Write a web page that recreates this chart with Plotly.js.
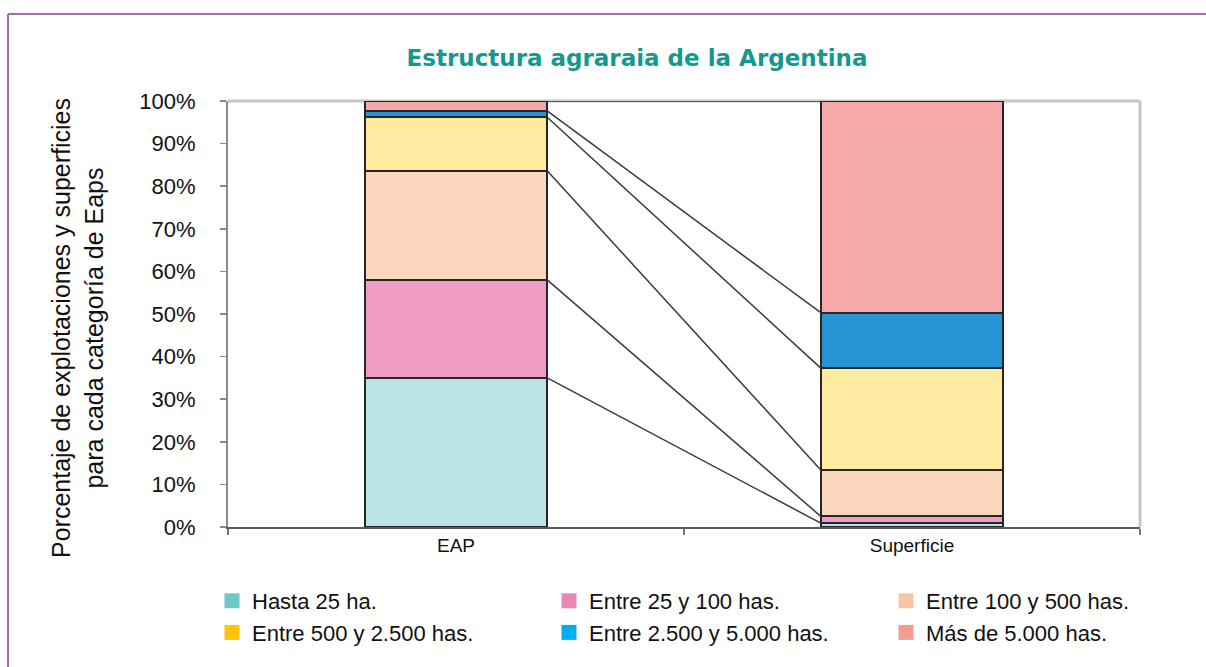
<!DOCTYPE html>
<html><head><meta charset="utf-8">
<script src="https://cdn.plot.ly/plotly-3.0.1.min.js"></script>
<style>body{margin:0;background:#fff}#chart{width:1206px;height:667px}</style>
</head><body><div id="chart"></div>
<script>
// ---- data ----
const categories = ['EAP', 'Superficie'];
const seriesNames = ['Hasta 25 ha.', 'Entre 25 y 100 has.', 'Entre 100 y 500 has.',
                     'Entre 500 y 2.500 has.', 'Entre 2.500 y 5.000 has.', 'Más de 5.000 has.'];
const eapValues = [35.0, 23.0, 25.6, 12.6, 1.5, 2.3];
const superficieValues = [0.9, 1.6, 10.9, 23.9, 13.0, 49.7];
const yTickVals = [0, 10, 20, 30, 40, 50, 60, 70, 80, 90, 100];
const yTickText = ['0%', '10%', '20%', '30%', '40%', '50%', '60%', '70%', '80%', '90%', '100%'];
const chartTitle = 'Estructura agraraia de la Argentina';
const yTitle = 'Porcentaje de explotaciones y superficies<br>para cada categoría de Eaps';

// ---- styles ----
const barColors = ['#b9e3e5', '#f09bc3', '#fbd7be', '#feeba0', '#2795d3', '#f6a9a9'];
const legendColors = ['#6ccbc6', '#e589b6', '#f9c4a2', '#fec20f', '#00aeef', '#f59b95'];
const FONT = '"Liberation Sans", Arial, Helvetica, sans-serif';
const W = 1206, H = 667;
const M = {l: 228, r: 66, t: 101, b: 140, autoexpand: false};
const plotW = W - M.l - M.r, plotH = H - M.t - M.b;
const barWidth = 0.4;
const pxX = p => (p - M.l) / plotW;
const pxY = p => (H - M.b - p) / plotH;

const traces = [];
seriesNames.forEach((name, i) => {
  traces.push({
    type: 'bar', x: categories, y: [eapValues[i], superficieValues[i]],
    width: barWidth, name: name, showlegend: false,
    marker: {color: barColors[i], line: {color: '#262626', width: 2}},
    hoverinfo: 'name+y'
  });
});

// series connector lines (cumulative tops)
const lx = [], ly = [];
let cumE = 0, cumS = 0;
for (let i = 0; i < seriesNames.length; i++) {
  cumE += eapValues[i]; cumS += superficieValues[i];
  lx.push(0 + barWidth / 2, 1 - barWidth / 2, null);
  ly.push(cumE, cumS, null);
}
traces.push({
  type: 'scatter', mode: 'lines', x: lx, y: ly, xaxis: 'x2', yaxis: 'y',
  line: {color: '#3a3a3a', width: 1.5}, showlegend: false, hoverinfo: 'skip'
});

// legend entries
seriesNames.forEach((name, i) => {
  traces.push({
    type: 'scatter', mode: 'markers', x: [null], y: [null], xaxis: 'x2',
    name: name, marker: {symbol: 'square', size: 15, color: legendColors[i]},
    hoverinfo: 'skip'
  });
});

const layout = {
  width: W, height: H, autosize: false,
  margin: M,
  paper_bgcolor: '#ffffff', plot_bgcolor: '#ffffff',
  font: {family: FONT, color: '#111111'},
  barmode: 'stack',
  title: {
    text: chartTitle, x: 637 / W, xref: 'container', xanchor: 'center',
    y: 1 - 58 / H, yref: 'container', yanchor: 'middle',
    font: {family: '"DejaVu Sans", ' + FONT, size: 23, color: '#13998d', weight: 'bold'}
  },
  xaxis: {
    type: 'category', range: [-0.5, 1.5], fixedrange: true,
    showline: true, linecolor: '#5a5a5a', linewidth: 2,
    ticks: 'outside', tickson: 'boundaries', ticklen: 6, tickwidth: 1.5, tickcolor: '#777',
    tickfont: {size: 19, color: '#111'}, showgrid: false, zeroline: false,
    automargin: false
  },
  xaxis2: {
    overlaying: 'x', range: [-0.5, 1.5], visible: false, fixedrange: true
  },
  yaxis: {
    range: [0, 100], fixedrange: true,
    tickvals: yTickVals, ticktext: yTickText,
    showline: true, linecolor: '#8a8a8a', linewidth: 2,
    ticks: 'outside', ticklen: 6, tickwidth: 1.5, tickcolor: '#8a8a8a',
    ticklabelstandoff: 20,
    tickfont: {size: 22, color: '#111'}, showgrid: false, zeroline: false,
    automargin: false
  },
  annotations: [{
    text: yTitle, textangle: -90, xref: 'paper', yref: 'paper',
    x: pxX(77), y: pxY(328), xanchor: 'center', yanchor: 'middle',
    showarrow: false, font: {size: 25, color: '#111'}
  }],
  legend: {
    orientation: 'h', x: pxX(212), xanchor: 'left', y: pxY(580), yanchor: 'top',
    font: {size: 22, color: '#111'}, entrywidth: 292, entrywidthmode: 'pixels',
    traceorder: 'normal',
    bgcolor: 'rgba(0,0,0,0)', tracegroupgap: 0
  },
  shapes: [
    {type: 'line', xref: 'paper', yref: 'paper', x0: 0, x1: 1, y0: 1, y1: 1,
     line: {color: '#c6c7bf', width: 3}, layer: 'below'},
    {type: 'line', xref: 'paper', yref: 'paper', x0: 1, x1: 1, y0: 0, y1: 1,
     line: {color: '#c6c7bf', width: 3}, layer: 'below'},
    {type: 'line', xref: 'paper', yref: 'paper', x0: pxX(8), x1: pxX(1210), y0: pxY(14), y1: pxY(14),
     line: {color: '#a06fa7', width: 2}},
    {type: 'line', xref: 'paper', yref: 'paper', x0: pxX(8), x1: pxX(8), y0: pxY(14), y1: pxY(670),
     line: {color: '#a06fa7', width: 2}}
  ]
};

Plotly.newPlot('chart', traces, layout, {displayModeBar: false, staticPlot: true});
</script>
</body></html>
